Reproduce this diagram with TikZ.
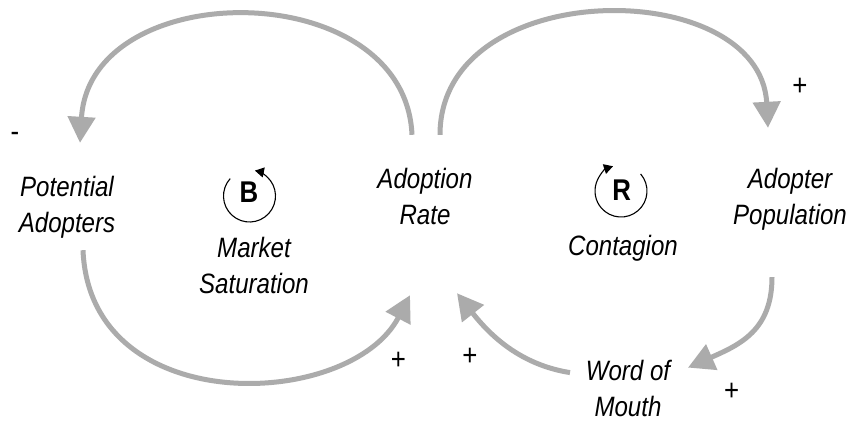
\documentclass[tikz,border=0pt]{standalone}
\usepackage{fontspec}
\setmainfont{Liberation Sans}[FakeStretch=0.86]
\usetikzlibrary{arrows.meta,calc}

\definecolor{linkgray}{HTML}{ABABAB}

\tikzset{
  var/.style={font=\fontsize{28}{36}\selectfont\itshape, align=center, inner sep=0pt},
  sign/.style={font=\fontsize{30}{30}\selectfont, inner sep=0pt},
  loopletter/.style={font=\fontsize{30}{30}\selectfont\bfseries, inner sep=0pt},
  link/.style={line width=5pt, draw=linkgray, line cap=butt,
    -{Triangle[length=26pt,width=27pt,fill=linkgray]}},
  loopline/.style={line width=1.1pt, draw=black,
    -{Triangle[length=9pt,width=10pt]}}
}

\begin{document}
\begin{tikzpicture}[x=1pt,y=-1pt]
  \fill[white] (0,0) rectangle (852,421);
  \useasboundingbox (0,0) rectangle (852,421);

  % stocks and flows
  \node[var] (pot)  at (67,207.5)  {Potential\strut\\Adopters\strut};
  \node[var] (rate) at (425,199)   {Adoption\strut\\Rate\strut};
  \node[var] (pop)  at (790,199)   {Adopter\strut\\Population\strut};
  \node[var] (wom)  at (628,390.8) {Word of\strut\\Mouth\strut};

  % loop names
  \node[var] (sat)  at (254,268)   {Market\strut\\Saturation\strut};
  \node[var] (cont) at (623,247.8) {Contagion\strut};

  % loop markers
  \coordinate (bc) at (249.5,196);
  \coordinate (rc) at (621,191);
  \node[loopletter] (bl) at (249,192) {B};
  \node[loopletter] (rl) at (621.7,190) {R};
  \draw[loopline] ($(bc)+(138:26pt)$) arc[start angle=138, end angle=438, radius=26pt];
  \draw[loopline] ($(rc)+(41:26pt)$) arc[start angle=41, end angle=-252, radius=26pt];

  % causal links
  \draw[link] ([shift={(-13,-28)}]rate.north)
    .. controls +(-7,-160) and +(10,-168) .. ([shift={(13,-28.5)}]pot.north);
  \draw[link] ([shift={(15,-28)}]rate.north)
    .. controls +(0,-160) and +(-8,-153) .. ([shift={(-22,-35)}]pop.north);
  \draw[link] ([shift={(16,6.5)}]pot.south)
    .. controls +(7,170) and +(-60,115) .. ([shift={(-15,60)}]rate.south);
  \draw[link] ([shift={(-18,42)}]pop.south)
    .. controls +(0,53) and +(52,-23) .. ([shift={(60,13)}]wom.north);
  \draw[link] ([shift={(-58,18)}]wom.north)
    .. controls +(-50,-8) and +(33,42) .. ([shift={(32,58)}]rate.south);

  % link polarities
  \node[sign] (s1) at (15,136.7)   {-};
  \node[sign] (s2) at (800,86.7)   {+};
  \node[sign] (s3) at (398.3,360.7) {+};
  \node[sign] (s4) at (470,356.7)  {+};
  \node[sign] (s5) at (731.7,391.7) {+};
\end{tikzpicture}
\end{document}
